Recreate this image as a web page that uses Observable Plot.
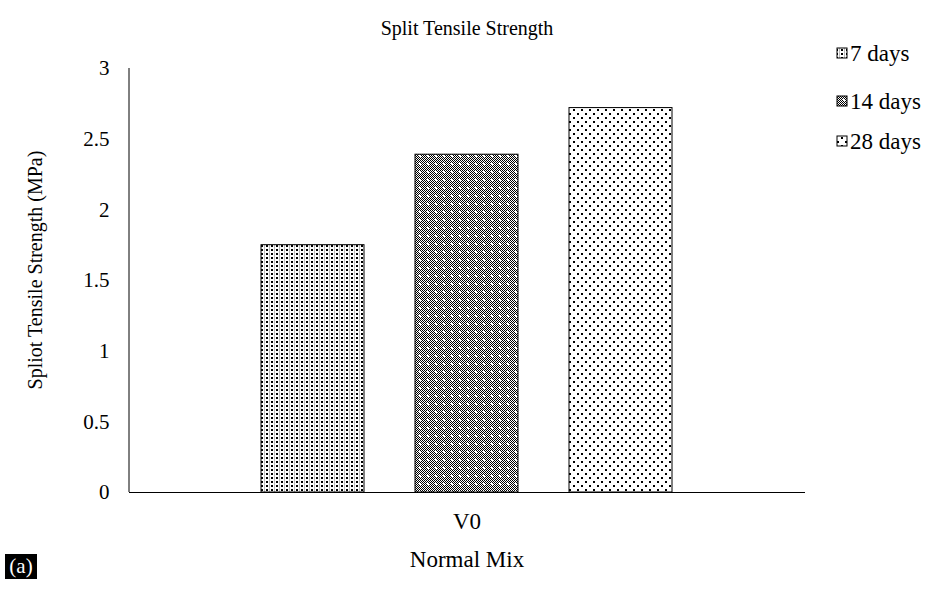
<!DOCTYPE html>
<html>
<head>
<meta charset="utf-8">
<script src="https://cdn.jsdelivr.net/npm/d3@7"></script>
<script src="https://cdn.jsdelivr.net/npm/@observablehq/plot@0.6"></script>
<style>
  html, body { margin: 0; padding: 0; background: #fff; }
  #chart svg { display: block; }
  #chart svg, #chart svg text { font-family: "Liberation Serif", "Times New Roman", Times, serif !important; }
</style>
</head>
<body>
<div id="chart"></div>
<script>
const groups = ["V0"];
const series = ["7 days", "14 days", "28 days"];
const values = [1.75, 2.39, 2.72];
const yTicks = [0, 0.5, 1, 1.5, 2, 2.5, 3];
const title = "Split Tensile Strength";
const yLabel = "Spliot Tensile Strength (MPa)";
const xLabel = "Normal Mix";
const panelTag = "(a)";
const patternIds = ["url(#p7)", "url(#p14)", "url(#p28)"];

const data = series.map((s, i) => ({group: groups[0], series: s, value: values[i]}));

const FONT = "Liberation Serif, Times New Roman, Times, serif";
const W = 930, H = 589;
const mL = 129, mR = 125, mT = 68, mB = 97;

const chart = Plot.plot({
  width: W,
  height: H,
  marginLeft: mL,
  marginRight: mR,
  marginTop: mT,
  marginBottom: mB,
  style: {fontFamily: FONT, fontSize: "21px", color: "#000", background: "#fff"},
  x: {domain: series, paddingInner: 0.33, paddingOuter: 0.85, axis: null},
  y: {domain: [0, 3], axis: null},
  color: {domain: series, range: patternIds},
  marks: [
    Plot.barY(data, {x: "series", y: "value", fill: "series", stroke: "#000", strokeWidth: 1}),
    Plot.axisY({ticks: yTicks, tickSize: 0, tickPadding: 20, label: null, fontSize: 21, tickFormat: d => String(d)}),
    Plot.ruleY([0], {stroke: "#000"})
  ]
});

document.getElementById("chart").appendChild(chart);

const svg = d3.select(chart);
const defs = svg.insert("defs", ":first-child");

// 7 days: dense dot grid
const p7 = defs.append("pattern").attr("id", "p7").attr("patternUnits", "userSpaceOnUse").attr("width", 5).attr("height", 4);
p7.append("rect").attr("width", 5).attr("height", 4).attr("fill", "#fff");
p7.append("rect").attr("x", 1).attr("y", 1).attr("width", 2).attr("height", 2).attr("fill", "#000");
p7.append("rect").attr("x", 4).attr("y", 0).attr("width", 1).attr("height", 4).attr("fill", "#bbb");

// 14 days: dark checker
const p14 = defs.append("pattern").attr("id", "p14").attr("patternUnits", "userSpaceOnUse").attr("width", 8).attr("height", 8);
p14.append("rect").attr("width", 8).attr("height", 8).attr("fill", "#fff");
for (let yy = 0; yy < 8; yy++) for (let xx = 0; xx < 8; xx++) {
  if ((xx + yy) % 2 === 0 && !(xx >= 3 && xx <= 4 && yy >= 3 && yy <= 4)) {
    p14.append("rect").attr("x", xx).attr("y", yy).attr("width", 1).attr("height", 1).attr("fill", "#000");
  }
}

// 28 days: sparse dots
const p28 = defs.append("pattern").attr("id", "p28").attr("patternUnits", "userSpaceOnUse").attr("width", 8).attr("height", 8);
p28.append("rect").attr("width", 8).attr("height", 8).attr("fill", "#fff");
p28.append("rect").attr("x", 1).attr("y", 1).attr("width", 2).attr("height", 2).attr("fill", "#000");
p28.append("rect").attr("x", 5).attr("y", 5).attr("width", 2).attr("height", 2).attr("fill", "#000");

const x0 = mL, x1 = W - mR, yBase = H - mB;

// y axis line
svg.append("line").attr("x1", x0).attr("x2", x0).attr("y1", mT).attr("y2", yBase).attr("stroke", "#000");

function txt(x, y, s, opts = {}) {
  const t = svg.append("text").attr("x", x).attr("y", y).text(s)
    .attr("font-family", FONT).attr("font-size", opts.size || 21)
    .attr("fill", opts.fill || "#000")
    .attr("text-anchor", opts.anchor || "middle")
    .attr("dominant-baseline", "central");
  if (opts.rotate) t.attr("transform", `rotate(${opts.rotate},${x},${y})`);
  return t;
}

const cx = (x0 + x1) / 2;
txt(cx, 28, title, {size: 20});
txt(cx, 521, groups[0], {size: 23});
txt(cx, 559, xLabel, {size: 23});
txt(35, 270, yLabel, {rotate: -90, size: 20});

// legend
const legY = [53, 101, 141];
series.forEach((s, i) => {
  svg.append("rect").attr("x", 837).attr("y", legY[i] - 5).attr("width", 10).attr("height", 10)
    .attr("fill", patternIds[i]).attr("stroke", "#000").attr("stroke-width", 1);
  txt(850, legY[i], s, {anchor: "start", size: 23});
});

// panel tag
svg.append("rect").attr("x", 5).attr("y", 554).attr("width", 32).attr("height", 25).attr("fill", "#000");
txt(21, 566, panelTag, {fill: "#fff"});
</script>
</body>
</html>
